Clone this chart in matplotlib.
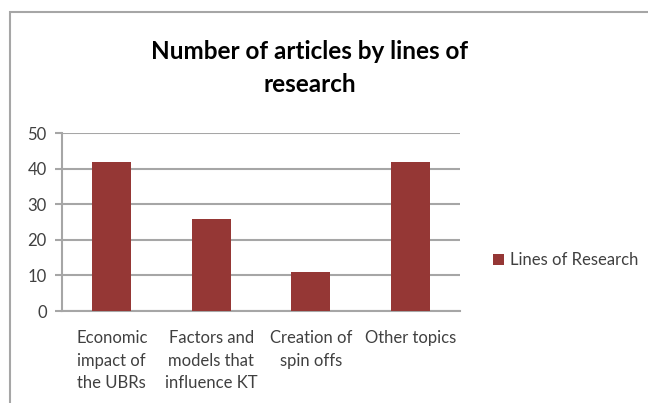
import matplotlib
matplotlib.use("Agg")
import matplotlib.pyplot as plt
from matplotlib.patches import Rectangle

categories = ["Economic\nimpact of\nthe UBRs", "Factors and\nmodels that\ninfluence KT",
              "Creation of\nspin offs", "Other topics"]
values = [42, 26, 11, 42]
series_name = "Lines of Research"
yticks = [0, 10, 20, 30, 40, 50]

plt.rcParams['font.family'] = ['Lato', 'DejaVu Sans']

W, H = 648, 403
fig = plt.figure(figsize=(W / 100, H / 100), dpi=100)
fig.patch.set_facecolor("white")

# outer chart border
fig.patches.append(Rectangle((10 / W, -0.1), 1.2, 1 - 12 / H + 0.1, transform=fig.transFigure,
                             fill=False, edgecolor="#a6a6a6", linewidth=1.5))

ax = fig.add_axes([62 / W, 1 - 311 / H, (460 - 62) / W, (311 - 133.3) / H])
x = range(len(categories))
ax.bar(x, values, width=0.39, color="#953735", label=series_name, zorder=3)
ax.set_xlim(-0.5, len(categories) - 0.5)
ax.set_ylim(0, 50)
ax.set_yticks(yticks)
ax.set_xticks(list(x))
ax.set_xticklabels(categories, fontsize=12, color="#404040", linespacing=1.5, va="top")
ax.tick_params(axis="x", length=0, pad=14)
ax.tick_params(axis="y", length=5, width=1.5, color="#a6a6a6", labelsize=12,
               labelcolor="#404040", pad=6)
ax.yaxis.grid(True, color="#a6a6a6", linewidth=1.5, zorder=0)
ax.set_axisbelow(True)
for s in ["top", "right"]:
    ax.spines[s].set_visible(False)
for s in ["left", "bottom"]:
    ax.spines[s].set_color("#a6a6a6")
    ax.spines[s].set_linewidth(1.5)

fig.text(310 / W, 1 - 68 / H, "Number of articles by lines of\nresearch", ha="center", va="center",
         fontsize=17.5, fontweight="bold", color="black", linespacing=1.55)

fig.legend(handles=ax.get_legend_handles_labels()[0], labels=[series_name],
           loc="center left", bbox_to_anchor=(478 / W, 1 - 260 / H), frameon=False,
           fontsize=12, handlelength=0.65, handleheight=0.65, handletextpad=0.4,
           labelcolor="#404040")

fig.savefig("out.png", dpi=100)
